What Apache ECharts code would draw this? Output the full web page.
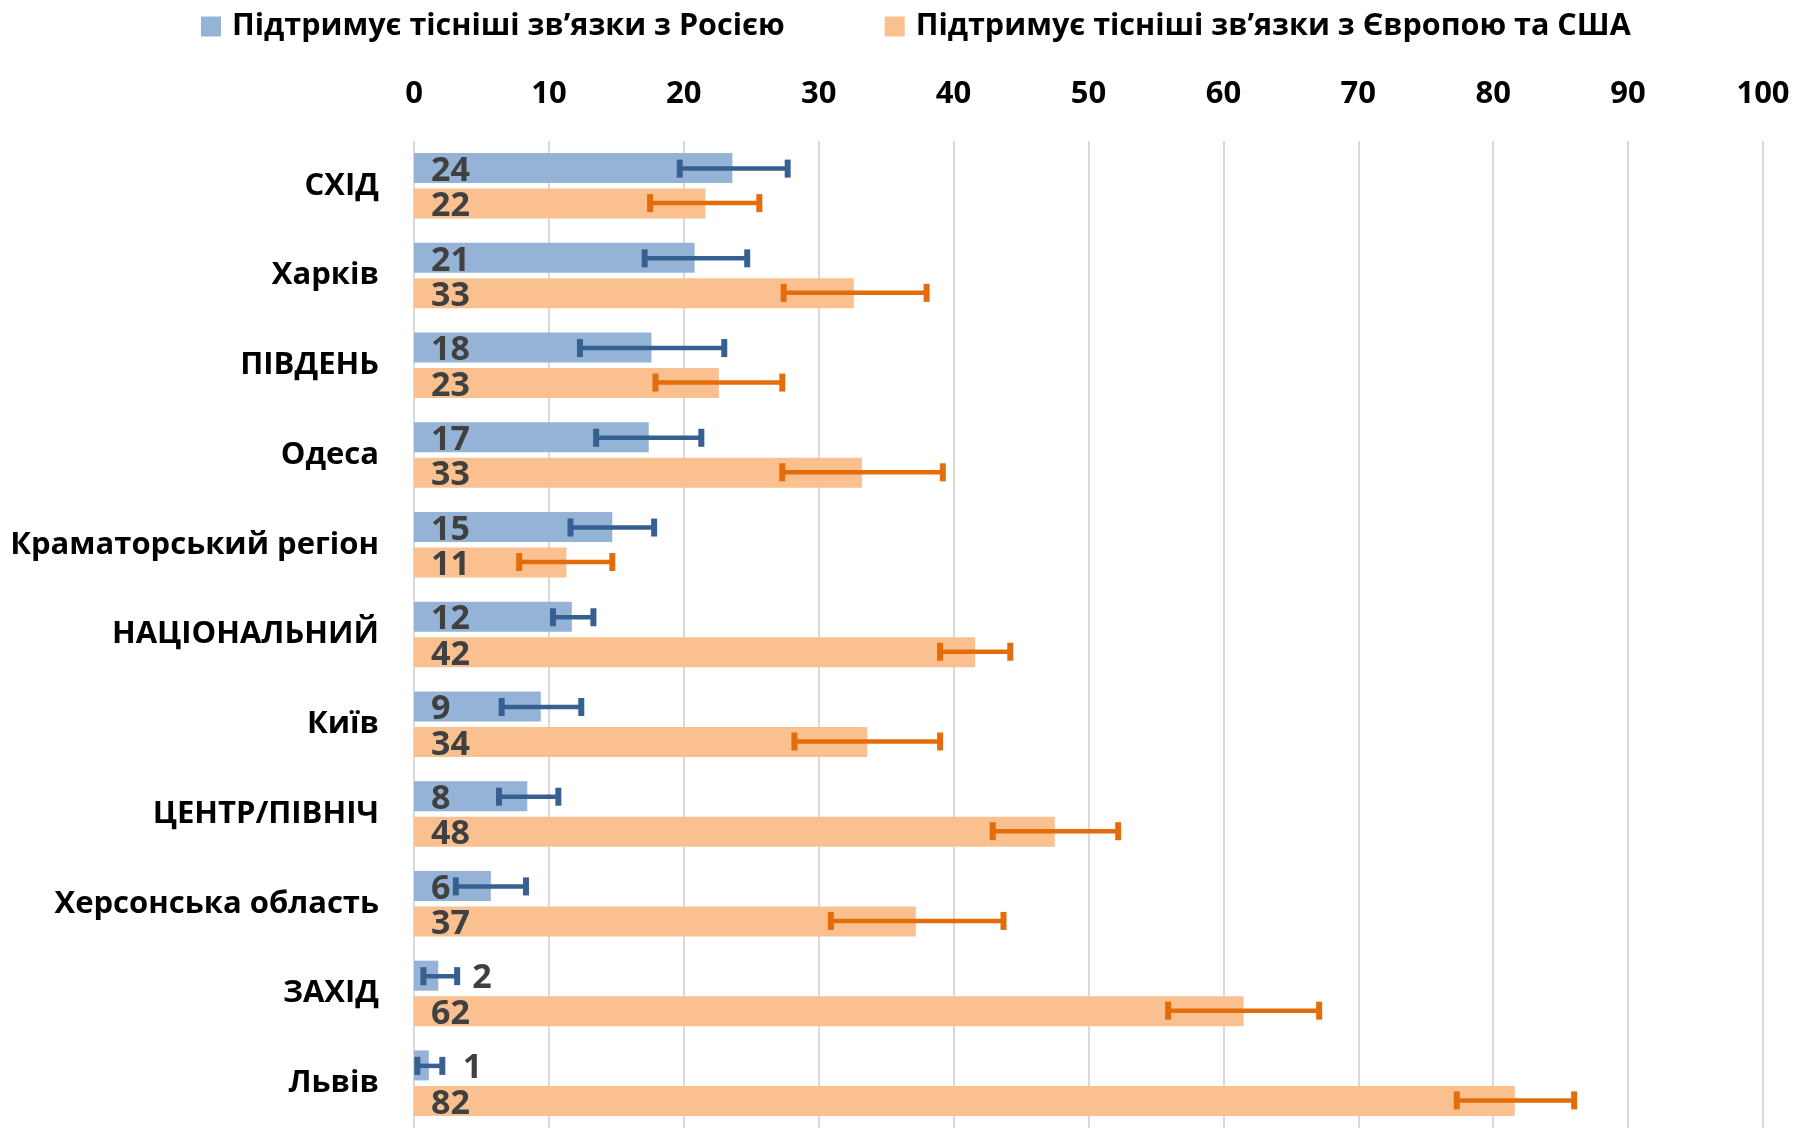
<!DOCTYPE html>
<html><head><meta charset="utf-8">
<script src="https://cdn.jsdelivr.net/npm/echarts@6/dist/echarts.min.js"></script>
<style>html,body{margin:0;padding:0;background:#fff}#c{width:1804px;height:1128px}</style>
</head><body><div id="c"></div>
<script>
const categories = ['СХІД','Харків','ПІВДЕНЬ','Одеса','Краматорський регіон','НАЦІОНАЛЬНИЙ','Київ','ЦЕНТР/ПІВНІЧ','Херсонська область','ЗАХІД','Львів'];
const seriesNames = ['Підтримує тісніші зв’язки з Росією','Підтримує тісніші зв’язки з Європою та США'];
const russia     = [23.6,20.8,17.6,17.4,14.7,11.7,9.4,8.4,5.7,1.8,1.1];
const russiaLow  = [19.7,17.1,12.3,13.5,11.6,10.3,6.5,6.3,3.1,0.7,0.25];
const russiaHigh = [27.7,24.7,23.0,21.3,17.8,13.3,12.4,10.7,8.3,3.2,2.1];
const europe     = [21.6,32.6,22.6,33.2,11.3,41.6,33.6,47.5,37.2,61.5,81.6];
const europeLow  = [17.5,27.4,17.9,27.3,7.8,39.0,28.2,42.9,30.9,55.9,77.3];
const europeHigh = [25.6,38.0,27.3,39.2,14.7,44.2,39.0,52.2,43.7,67.1,86.0];
const xTicks = [0,10,20,30,40,50,60,70,80,90,100];

const FONT = '"Open Sans", "Noto Sans", sans-serif';
const BAR_W = 30, BAR_GAP = 5.5;
const OFF = (BAR_W + BAR_GAP) / 2;

function errSeries(name, low, high, sign, color) {
  return {
    type: 'custom', name: name + ' err', z: 5, silent: true,
    data: low.map((l, i) => [i, l, high[i]]),
    encode: { x: [1, 2], y: 0 },
    renderItem: function (params, api) {
      const idx = api.value(0);
      const p1 = api.coord([api.value(1), idx]);
      const p2 = api.coord([api.value(2), idx]);
      const y = p1[1] + sign * OFF - 0.5 * sign;
      const st = { fill: color };
      return { type: 'group', children: [
        { type: 'rect', shape: { x: p1[0], y: y - 2.25, width: p2[0] - p1[0], height: 4.5 }, style: st },
        { type: 'rect', shape: { x: p1[0] - 3, y: y - 9, width: 6, height: 18 }, style: st },
        { type: 'rect', shape: { x: p2[0] - 3, y: y - 9, width: 6, height: 18 }, style: st }
      ]};
    }
  };
}

function barData(vals) {
  return vals.map(v => v < 3 ? { value: v, label: { position: 'right', distance: 34 } } : v);
}

const labelCommon = { show: true, position: 'insideLeft', distance: 17, offset: [0, 3], color: '#404040',
  fontFamily: FONT, fontWeight: 'bold', fontSize: 34, formatter: p => Math.round(p.value) };

const chart = echarts.init(document.getElementById('c'));
chart.setOption({
  animation: false,
  backgroundColor: '#fff',
  legend: {
    data: seriesNames, left: 201, top: 11, padding: 0, itemWidth: 20, itemHeight: 20, itemGap: 100,
    icon: 'rect',
    textStyle: { fontFamily: FONT, fontWeight: 'bold', fontSize: 30.5, color: '#000', padding: [0,0,0,6] }
  },
  grid: { left: 414, right: 41, top: 141, height: 990 },
  xAxis: {
    type: 'value', position: 'top', min: 0, max: 100, interval: 10,
    axisLine: { show: false }, axisTick: { show: false },
    splitLine: { show: true, lineStyle: { color: '#D9D9D9', width: 2 } },
    axisLabel: { margin: 31, color: '#000', fontFamily: FONT, fontWeight: 'bold', fontSize: 31,
      formatter: v => xTicks.includes(v) ? String(v) : '' }
  },
  yAxis: {
    type: 'category', data: categories, inverse: true,
    axisLine: { show: false }, axisTick: { show: false },
    axisLabel: { margin: 35, color: '#000', fontFamily: FONT, fontWeight: 'bold', fontSize: 31 }
  },
  series: [
    { type: 'bar', name: seriesNames[0], data: barData(russia), barWidth: BAR_W,
      barGap: (BAR_GAP / BAR_W * 100).toFixed(1) + '%',
      itemStyle: { color: '#95B3D7' }, label: labelCommon },
    { type: 'bar', name: seriesNames[1], data: barData(europe), barWidth: BAR_W,
      itemStyle: { color: '#FAC090' }, label: labelCommon },
    errSeries(seriesNames[0], russiaLow, russiaHigh, -1, '#376092'),
    errSeries(seriesNames[1], europeLow, europeHigh, 1, '#E46C0A')
  ]
});
</script></body></html>
